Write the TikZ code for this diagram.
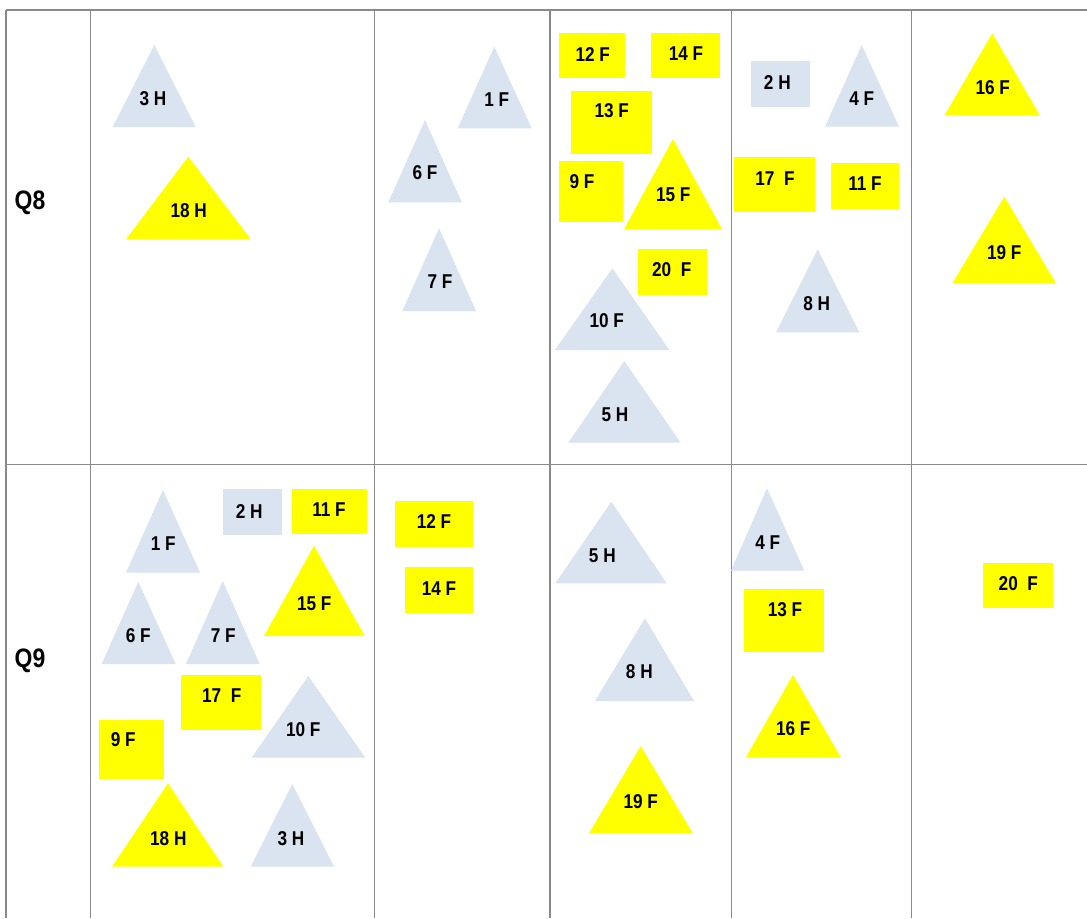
\documentclass[tikz,border=0pt]{standalone}
\usepackage{fontspec}
\setmainfont{Liberation Sans}
\newfontfamily\condfont[FakeStretch=0.86]{Liberation Sans}
\definecolor{tblue}{HTML}{DAE3F0}
\definecolor{tyel}{HTML}{FFFF00}
\definecolor{gridc}{HTML}{8A8A8A}
\tikzset{
  lbl/.style={inner sep=0pt, font=\condfont\bfseries\fontsize{15}{18}\selectfont, text=black},
  qlbl/.style={inner sep=0pt, font=\condfont\bfseries\fontsize{20}{24}\selectfont, text=black},
  gridline/.style={draw=gridc, line width=0.8pt},
  bluefill/.style={fill=tblue},
  yelfill/.style={fill=tyel}
}
% fill style, apex x, apex y, left x, right x, base y
\newcommand{\mytri}[6]{\fill[#1] (#2,#3) -- (#4,#6) -- (#5,#6) -- cycle;}
% fill style, x1, y1, x2, y2
\newcommand{\myrect}[5]{\fill[#1] (#2,#3) rectangle (#4,#5);}
\begin{document}
\begin{tikzpicture}[x=0.75pt,y=-0.75pt]
\useasboundingbox[fill=white] (0,0) rectangle (1087,918);
% grid
\draw[gridline] (6,10) -- (1087,10);
\draw[gridline] (6,464.3) -- (1087,464.3);
\foreach \xx in {6,90.7,374.5,550,731.7,911.7}{\draw[gridline] (\xx,10) -- (\xx,918);}
\node[qlbl] (q8) at (30,203) {Q8};
\node[qlbl] (q9) at (30,661) {Q9};

% ---------- Q8 ----------
\mytri{bluefill}{154.3}{45}{112.7}{195.7}{127}
\node[lbl] (a3h) at (153,99) {3 H};
\mytri{yelfill}{188.3}{156.7}{126}{250.7}{239.3}
\node[lbl] (a18h) at (188.7,211) {18 H};

\mytri{bluefill}{494.3}{46.7}{457.7}{531.7}{128.3}
\node[lbl] (a1f) at (496.7,99.3) {1 F};
\mytri{bluefill}{425}{120}{388.3}{461.7}{202.3}
\node[lbl] (a6f) at (425,172.7) {6 F};
\mytri{bluefill}{439}{228.3}{402.3}{476}{311}
\node[lbl] (a7f) at (440,281.7) {7 F};

\myrect{yelfill}{559.3}{33.3}{625}{78.3}
\node[lbl] (a12f) at (592.7,54.3) {12 F};
\myrect{yelfill}{651}{33.3}{720}{78.3}
\node[lbl] (a14f) at (686,53.3) {14 F};
\myrect{yelfill}{571}{90.7}{651.7}{154}
\node[lbl] (a13f) at (611.7,111) {13 F};
\myrect{yelfill}{558.7}{161}{623.3}{221.7}
\node[lbl] (a9f) at (582,181.7) {9 F};
\mytri{yelfill}{673}{139}{624}{722}{229.3}
\node[lbl] (a15f) at (673.3,195) {15 F};
\myrect{yelfill}{637.7}{249.3}{707.3}{295.3}
\node[lbl] (a20f) at (671.7,270) {20\ \ F};
\mytri{bluefill}{612.3}{268.3}{555}{669.3}{350}
\node[lbl] (a10f) at (606.7,321) {10 F};
\mytri{bluefill}{624.3}{361}{568.3}{680.7}{442.7}
\node[lbl] (a5h) at (615,414.3) {5 H};

\myrect{bluefill}{750.7}{61}{810}{107.3}
\node[lbl] (a2h) at (777.3,82.7) {2 H};
\mytri{bluefill}{861.7}{45}{825}{899}{126.7}
\node[lbl] (a4f) at (861.7,99) {4 F};
\myrect{yelfill}{734}{156.7}{815.3}{211.7}
\node[lbl] (a17f) at (775,178.3) {17\ \ F};
\myrect{yelfill}{830.7}{163}{899}{208.7}
\node[lbl] (a11f) at (865,184) {11 F};
\mytri{bluefill}{817.7}{249.3}{776}{859.3}{332.3}
\node[lbl] (a8h) at (816.7,303.3) {8 H};

\mytri{yelfill}{992.3}{33.3}{944.3}{1040}{115.7}
\node[lbl] (a16f) at (992.7,87.3) {16 F};
\mytri{yelfill}{1004.3}{196.7}{952.3}{1056}{283.3}
\node[lbl] (a19f) at (1004.3,252.3) {19 F};

% ---------- Q9 ----------
\mytri{bluefill}{163}{490}{126}{200}{572.7}
\node[lbl] (b1f) at (163.3,543.3) {1 F};
\myrect{bluefill}{222.7}{489.3}{281.7}{535.3}
\node[lbl] (b2h) at (249.3,511.7) {2 H};
\myrect{yelfill}{291.7}{489}{366.7}{534.3}
\node[lbl] (b11f) at (329,510) {11 F};
\mytri{yelfill}{314}{545.7}{264}{364.7}{636}
\node[lbl] (b15f) at (314.3,603.3) {15 F};
\mytri{bluefill}{138.3}{581.7}{101.7}{175.7}{664}
\node[lbl] (b6f) at (138.3,635.7) {6 F};
\mytri{bluefill}{222.7}{581}{186}{259.7}{664}
\node[lbl] (b7f) at (223.3,635.7) {7 F};
\myrect{yelfill}{181}{675}{261.3}{730}
\node[lbl] (b17f) at (221.7,696) {17\ \ F};
\mytri{bluefill}{308.3}{676}{251.7}{365.3}{757.7}
\node[lbl] (b10f) at (303.3,729.3) {10 F};
\myrect{yelfill}{99.3}{720}{164}{779.3}
\node[lbl] (b9f) at (123.3,740) {9 F};
\mytri{yelfill}{168}{783.3}{112}{223.3}{866.7}
\node[lbl] (b18h) at (168.3,838.3) {18 H};
\mytri{bluefill}{292.3}{784}{250.7}{334}{866.7}
\node[lbl] (b3h) at (291,838.3) {3 H};

\myrect{yelfill}{395}{501}{472.7}{547}
\node[lbl] (b12f) at (434,521.7) {12 F};
\myrect{yelfill}{405}{567}{472.7}{613}
\node[lbl] (b14f) at (439,588.3) {14 F};

\mytri{bluefill}{611.3}{501.7}{555.3}{666.7}{583.3}
\node[lbl] (b5h) at (602.3,555.7) {5 H};
\mytri{bluefill}{645}{618.3}{595}{694}{701}
\node[lbl] (b8h) at (639.3,671.7) {8 H};
\mytri{yelfill}{640.7}{746}{589}{692.7}{833.3}
\node[lbl] (b19f) at (640.7,801.7) {19 F};

\mytri{bluefill}{767}{488.3}{731}{804.3}{570.7}
\node[lbl] (b4f) at (767.7,542.7) {4 F};
\myrect{yelfill}{743.7}{588.7}{824}{651.7}
\node[lbl] (b13f) at (785,609.3) {13 F};
\mytri{yelfill}{793}{675}{745.7}{841}{757.7}
\node[lbl] (b16f) at (793.3,728.3) {16 F};

\myrect{yelfill}{983.3}{562.7}{1053.3}{608.3}
\node[lbl] (b20f) at (1018.3,584) {20\ \ F};
\end{tikzpicture}
\end{document}
